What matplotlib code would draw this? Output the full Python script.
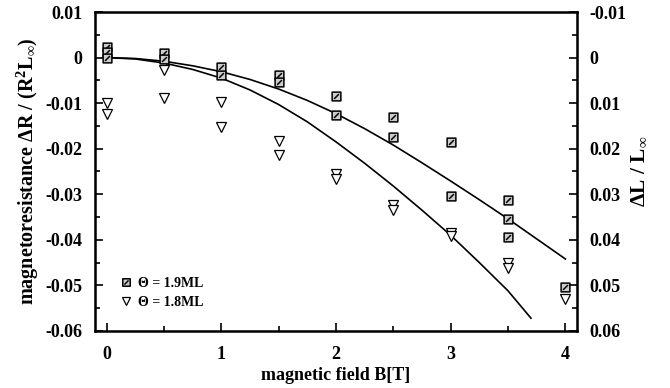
import matplotlib
matplotlib.use("Agg")
import matplotlib.pyplot as plt
from matplotlib.path import Path
from matplotlib.ticker import MultipleLocator, FixedLocator, FixedFormatter

b_19 = [0, 0, 0, 0.5, 0.5, 1, 1, 1.5, 1.5, 2, 2, 2.5, 2.5, 3, 3, 3.5, 3.5, 3.5, 4]
r_19 = [0.0024, 0.0012, -0.0001, 0.0010, -0.0003, -0.0020, -0.0038, -0.0039, -0.0054,
        -0.0085, -0.0125, -0.0131, -0.0175, -0.0186, -0.0304, -0.0313, -0.0354, -0.0394, -0.0503]
b_18 = [0, 0, 0.5, 0.5, 1, 1, 1.5, 1.5, 2, 2, 2.5, 2.5, 3, 3, 3.5, 3.5, 4]
r_18 = [-0.0099, -0.0123, -0.0028, -0.0088, -0.0098, -0.0153, -0.0183, -0.0213,
        -0.0256, -0.0267, -0.0324, -0.0335, -0.0385, -0.0392, -0.0451, -0.0462, -0.0530]

# fitted curves
fit_b_upper = [0, 0.25, 0.5, 0.75, 1, 1.25, 1.5, 1.75, 2, 2.25, 2.5, 2.75, 3, 3.25, 3.5, 3.75, 4]
fit_r_upper = [0, -0.0002, -0.0008, -0.0018, -0.0031, -0.0048, -0.0069, -0.0094, -0.0123,
               -0.0156, -0.0192, -0.0231, -0.0271, -0.0312, -0.0354, -0.0398, -0.0442]
fit_b_lower = [0, 0.25, 0.5, 0.75, 1, 1.25, 1.5, 1.75, 2, 2.25, 2.5, 2.75, 3, 3.25, 3.5, 3.7]
fit_r_lower = [0, -0.0003, -0.0012, -0.0026, -0.0045, -0.0071, -0.0103, -0.0141, -0.0185,
               -0.0232, -0.0282, -0.0335, -0.0390, -0.0450, -0.0512, -0.0572]

x_ticks = [0, 1, 2, 3, 4]
y_ticks = [0.01, 0, -0.01, -0.02, -0.03, -0.04, -0.05, -0.06]
y_labels = ["0.01", "0", "-0.01", "-0.02", "-0.03", "-0.04", "-0.05", "-0.06"]
y2_labels = ["-0.01", "0", "0.01", "0.02", "0.03", "0.04", "0.05", "0.06"]

plt.rcParams["font.family"] = ["Liberation Serif", "DejaVu Serif"]
plt.rcParams["font.weight"] = "bold"
plt.rcParams["mathtext.fontset"] = "custom"
plt.rcParams["mathtext.rm"] = "Liberation Serif:bold"
plt.rcParams["mathtext.it"] = "Liberation Serif:italic:bold"
plt.rcParams["mathtext.bf"] = "Liberation Serif:bold"

# square with a diagonal stroke
box = Path([(-1, -1), (1, -1), (1, 1), (-1, 1), (-1, -1), (-0.55, -0.55), (0.55, 0.55)],
           [Path.MOVETO, Path.LINETO, Path.LINETO, Path.LINETO, Path.CLOSEPOLY,
            Path.MOVETO, Path.LINETO])

fig = plt.figure(figsize=(6.7, 3.88), dpi=100)
ax = fig.add_axes([0.142, 0.147, 0.719, 0.822])

ax.plot(fit_b_upper, fit_r_upper, color="black", lw=1.2)
ax.plot(fit_b_lower, fit_r_lower, color="black", lw=1.2)
ax.plot(b_19, r_19, ls="none", marker=box, ms=6.3, mfc="#cccccc", mec="black", mew=1.1,
        label="\u0398 = 1.9ML")
ax.plot(b_18, r_18, ls="none", marker="v", ms=6.5, mfc="white", mec="black", mew=0.9,
        label="\u0398 = 1.8ML")

ax.set_xlim(-0.1, 4.1)
ax.set_ylim(-0.06, 0.01)
ax.xaxis.set_major_locator(FixedLocator(x_ticks))
ax.xaxis.set_minor_locator(MultipleLocator(0.5))
ax.yaxis.set_major_locator(FixedLocator(y_ticks))
ax.yaxis.set_major_formatter(FixedFormatter(y_labels))
ax.yaxis.set_minor_locator(MultipleLocator(0.005))
ax.tick_params(which="both", direction="in", labelsize=13, width=1.2, pad=9)
ax.tick_params(axis="x", pad=11)
ax.tick_params(which="major", length=6)
ax.tick_params(which="minor", length=3.5)
for s in ax.spines.values():
    s.set_linewidth(1.8)

ax.set_xlabel("magnetic field B[T]", fontsize=13, fontweight="bold", labelpad=3)
ax.set_ylabel(r"magnetoresistance $\Delta$R / (R$^2$L$_\infty$)", fontsize=14.5,
              fontweight="bold", labelpad=3)

ax2 = ax.twinx()
ax2.set_ylim(0.06, -0.01)
ax2.yaxis.set_major_locator(FixedLocator([-y for y in y_ticks]))
ax2.yaxis.set_major_formatter(FixedFormatter(y2_labels))
ax2.yaxis.set_minor_locator(MultipleLocator(0.005))
ax2.tick_params(which="both", direction="in", labelsize=13, width=1.2, pad=9)
ax2.tick_params(which="major", length=6)
ax2.tick_params(which="minor", length=3.5)
ax2.set_ylabel(r"$\Delta$L / L$_\infty$", fontsize=15.5, fontweight="bold", labelpad=2)

ax.legend(loc="lower left", bbox_to_anchor=(0.02, 0.03), frameon=False, fontsize=10,
          handletextpad=0.3, labelspacing=0.45, markerscale=0.85, handlelength=1.2)

fig.savefig("out.png", dpi=100)
